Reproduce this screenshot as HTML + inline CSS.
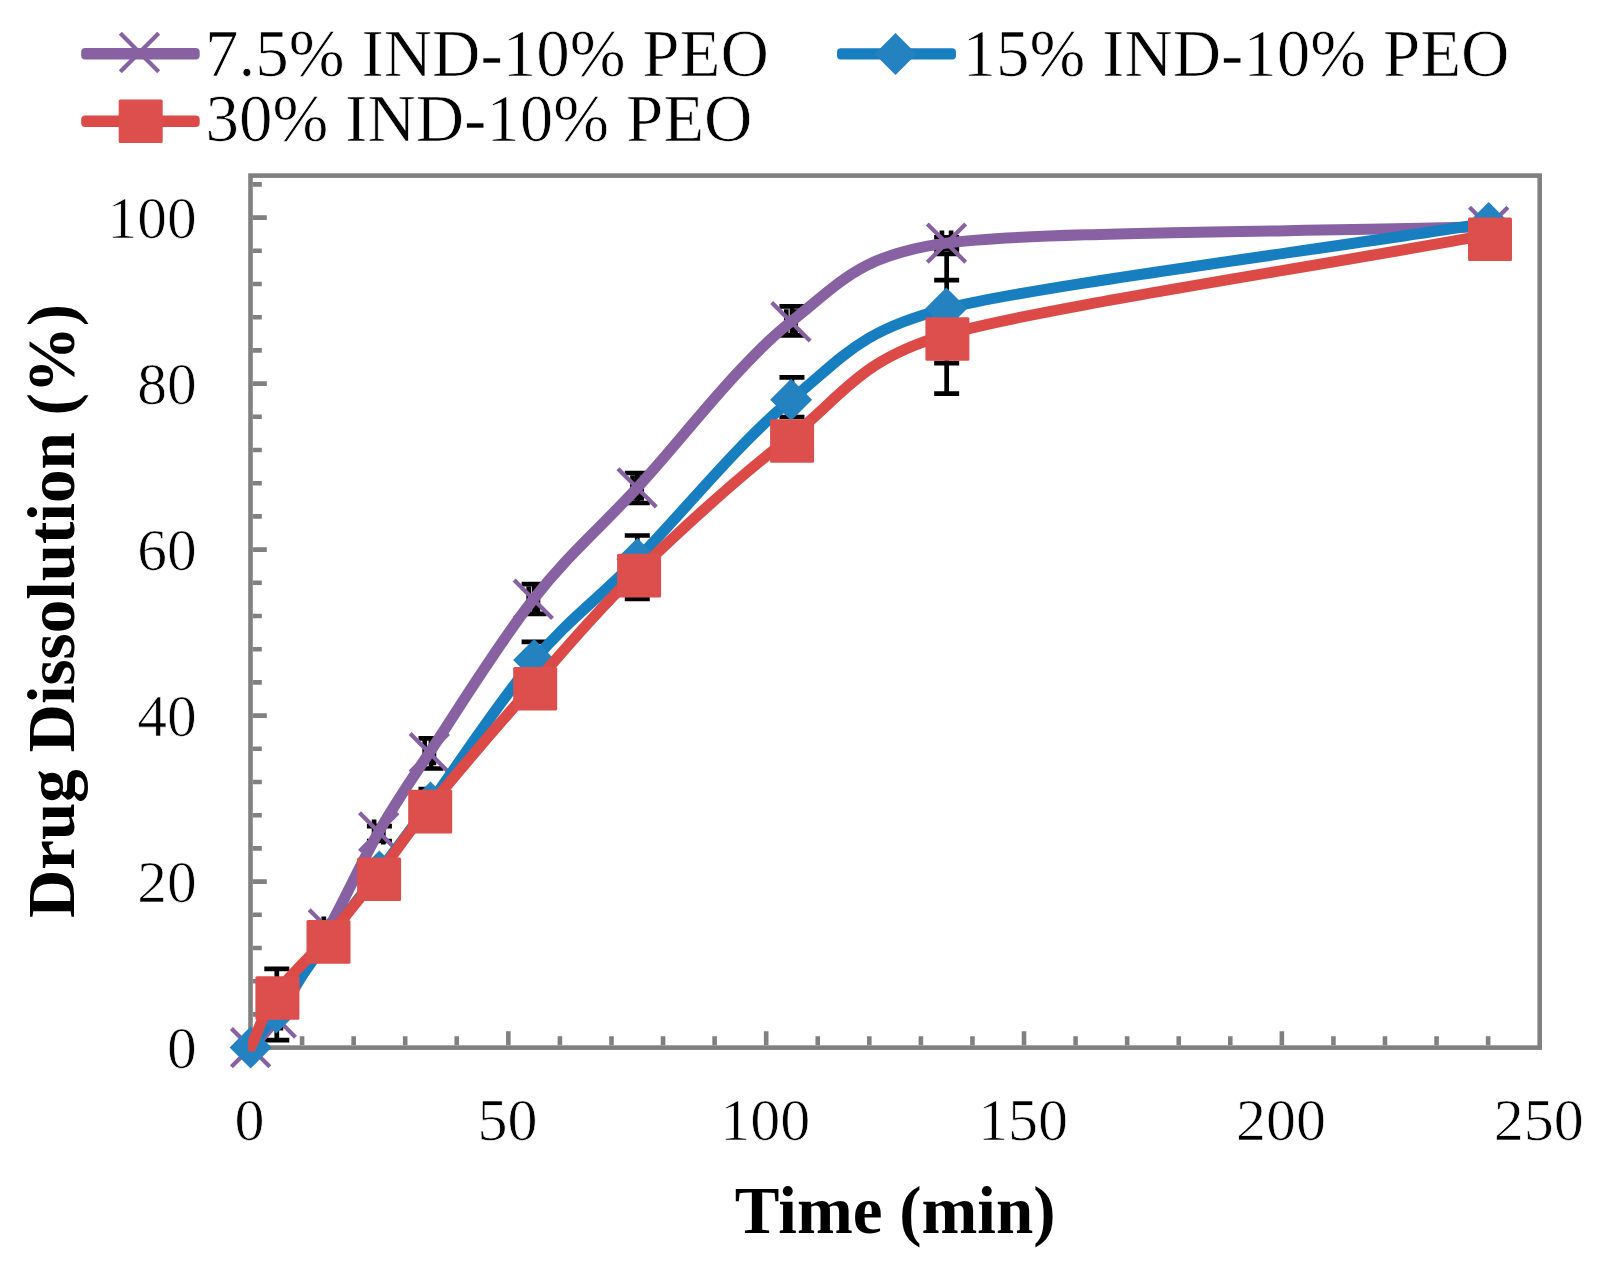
<!DOCTYPE html>
<html lang="en"><head><meta charset="utf-8"><title>Drug Dissolution</title>
<style>html,body{margin:0;padding:0;background:#fff;overflow:hidden}svg{display:block}</style></head>
<body>
<svg width="1603" height="1273" viewBox="0 0 1603 1273">
<rect x="0" y="0" width="1603" height="1273" fill="#ffffff"/>
<defs><clipPath id="pc"><rect x="248.2" y="173.4" width="1293.8" height="878.2"/></clipPath></defs>
<rect x="250.5" y="175.6" width="1289.20" height="872.00" fill="none" stroke="#808080" stroke-width="4.6"/>
<path d="M252.80,1014.40h9 M252.80,981.20h9 M252.80,948.00h9 M252.80,914.80h9 M252.80,881.60h14 M252.80,848.40h9 M252.80,815.20h9 M252.80,782.00h9 M252.80,748.80h9 M252.80,715.60h14 M252.80,682.40h9 M252.80,649.20h9 M252.80,616.00h9 M252.80,582.80h9 M252.80,549.60h14 M252.80,516.40h9 M252.80,483.20h9 M252.80,450.00h9 M252.80,416.80h9 M252.80,383.60h14 M252.80,350.40h9 M252.80,317.20h9 M252.80,284.00h9 M252.80,250.80h9 M252.80,217.60h14 M252.80,184.40h9 M302.07,1045.30v-9 M353.64,1045.30v-9 M405.20,1045.30v-9 M456.77,1045.30v-9 M508.34,1045.30v-14 M559.91,1045.30v-9 M611.48,1045.30v-9 M663.04,1045.30v-9 M714.61,1045.30v-9 M766.18,1045.30v-14 M817.75,1045.30v-9 M869.32,1045.30v-9 M920.88,1045.30v-9 M972.45,1045.30v-9 M1024.02,1045.30v-14 M1075.59,1045.30v-9 M1127.16,1045.30v-9 M1178.72,1045.30v-9 M1230.29,1045.30v-9 M1281.86,1045.30v-14 M1333.43,1045.30v-9 M1385.00,1045.30v-9 M1436.56,1045.30v-9 M1488.13,1045.30v-9" stroke="#808080" stroke-width="4.6" fill="none"/>
<g font-family="Liberation Serif, serif" font-size="59.4px" fill="#000" stroke="#fff" stroke-width="0.7">
<text x="196.6" y="1067.90" text-anchor="end">0</text>
<text x="196.6" y="901.90" text-anchor="end">20</text>
<text x="196.6" y="735.90" text-anchor="end">40</text>
<text x="196.6" y="569.90" text-anchor="end">60</text>
<text x="196.6" y="403.90" text-anchor="end">80</text>
<text x="196.6" y="237.90" text-anchor="end">100</text>
<text x="249.60" y="1140.3" text-anchor="middle" font-size="60px">0</text>
<text x="507.44" y="1140.3" text-anchor="middle" font-size="60px">50</text>
<text x="765.28" y="1140.3" text-anchor="middle" font-size="60px">100</text>
<text x="1023.12" y="1140.3" text-anchor="middle" font-size="60px">150</text>
<text x="1280.96" y="1140.3" text-anchor="middle" font-size="60px">200</text>
<text x="1538.80" y="1140.3" text-anchor="middle" font-size="60px">250</text>
</g>
<g font-family="Liberation Serif, serif" font-size="67px" font-weight="bold" fill="#000">
<text x="895.2" y="1232.9" text-anchor="middle">Time (min)</text>
<text transform="translate(74.4,611) rotate(-90)" text-anchor="middle">Drug Dissolution (%)</text>
</g>
<path d="M264.30,968.90h25M264.30,1040.20h25M276.80,968.90V1040.20 M366.92,826.20h25M366.92,841.00h25M379.42,826.20V841.00 M418.49,738.30h25M418.49,768.50h25M430.99,738.30V768.50 M521.62,584.10h25M521.62,613.80h25M534.12,584.10V613.80 M624.76,473.00h25M624.76,503.00h25M637.26,473.00V503.00 M779.46,306.40h25M779.46,335.30h25M791.96,306.40V335.30 M934.17,237.30h25M934.17,249.20h25M946.67,237.30V249.20 M418.49,789.00h25M418.49,820.00h25M430.99,789.00V820.00 M521.62,641.90h25M521.62,686.00h25M534.12,641.90V686.00 M624.76,535.50h25M624.76,599.00h25M637.26,535.50V599.00 M779.46,377.30h25M779.46,417.00h25M791.96,377.30V417.00 M934.17,254.00h25M934.17,363.20h25M946.67,254.00V363.20 M934.17,280.20h25M934.17,393.70h25M946.67,280.20V393.70 M271.70,1018.00h9.20M271.70,1005.50v25M280.90,1005.50v25 M323.80,928.90h9.20M323.80,916.40v25M333.00,916.40v25 M374.10,832.00h9.20M374.10,819.50v25M383.30,819.50v25 M424.70,752.80h9.20M424.70,740.30v25M433.90,740.30v25 M528.70,599.30h9.20M528.70,586.80v25M537.90,586.80v25 M632.50,487.90h9.20M632.50,475.40v25M641.70,475.40v25 M786.30,321.70h9.20M786.30,309.20v25M795.50,309.20v25 M941.90,243.10h9.20M941.90,230.60v25M951.10,230.60v25 M1484.10,226.50h9.20M1484.10,214.00v25M1493.30,214.00v25" stroke="#000" stroke-width="4.7" fill="none"/>
<path d="M250.60,1047.60 C259.17,1037.73 265.56,1034.39 276.30,1018.00 C287.04,1001.61 311.33,959.90 328.40,928.90 C345.47,897.90 361.88,861.35 378.70,832.00 C395.52,802.65 403.53,791.58 429.30,752.80 C455.07,714.02 498.67,643.45 533.30,599.30 C567.93,555.15 594.17,534.17 637.10,487.90 C680.03,441.63 739.33,362.50 790.90,321.70 C842.47,280.90 860.14,254.88 946.50,243.10 C1032.86,231.32 1307.97,232.03 1488.70,226.50" stroke="#8861A3" stroke-width="11.0" fill="none" stroke-linejoin="round" stroke-linecap="round" clip-path="url(#pc)"/>
<path d="M231.40,1028.40L269.80,1066.80M231.40,1066.80L269.80,1028.40" stroke="#8861A3" stroke-width="4.2" fill="none"/>
<path d="M257.10,998.80L295.50,1037.20M257.10,1037.20L295.50,998.80" stroke="#8861A3" stroke-width="4.2" fill="none"/>
<path d="M309.20,909.70L347.60,948.10M309.20,948.10L347.60,909.70" stroke="#8861A3" stroke-width="4.2" fill="none"/>
<path d="M359.50,812.80L397.90,851.20M359.50,851.20L397.90,812.80" stroke="#8861A3" stroke-width="4.2" fill="none"/>
<path d="M410.10,733.60L448.50,772.00M410.10,772.00L448.50,733.60" stroke="#8861A3" stroke-width="4.2" fill="none"/>
<path d="M514.10,580.10L552.50,618.50M514.10,618.50L552.50,580.10" stroke="#8861A3" stroke-width="4.2" fill="none"/>
<path d="M617.90,468.70L656.30,507.10M617.90,507.10L656.30,468.70" stroke="#8861A3" stroke-width="4.2" fill="none"/>
<path d="M771.70,302.50L810.10,340.90M771.70,340.90L810.10,302.50" stroke="#8861A3" stroke-width="4.2" fill="none"/>
<path d="M927.30,223.90L965.70,262.30M927.30,262.30L965.70,223.90" stroke="#8861A3" stroke-width="4.2" fill="none"/>
<path d="M1469.50,207.30L1507.90,245.70M1469.50,245.70L1507.90,207.30" stroke="#8861A3" stroke-width="4.2" fill="none"/>
<path d="M250.60,1047.60 C259.17,1035.90 263.68,1030.21 276.30,1012.50 C288.92,994.79 310.82,962.50 328.00,939.00 C345.18,915.50 362.32,894.23 379.40,871.50 C396.48,848.77 405.17,837.21 430.50,802.60 C455.83,767.99 499.63,700.68 534.10,660.10 C568.57,619.52 594.47,602.48 637.30,559.10 C680.13,515.72 739.60,441.57 791.10,399.80 C842.60,358.03 859.03,330.62 946.30,308.50 C1033.57,286.38 1307.90,251.50 1488.70,223.00" stroke="#177FC0" stroke-width="11.0" fill="none" stroke-linejoin="round" stroke-linecap="round" clip-path="url(#pc)"/>
<path d="M250.60,1026.60L271.60,1047.60L250.60,1068.60L229.60,1047.60Z" fill="#2582C0"/>
<path d="M276.30,991.50L297.30,1012.50L276.30,1033.50L255.30,1012.50Z" fill="#2582C0"/>
<path d="M328.00,918.00L349.00,939.00L328.00,960.00L307.00,939.00Z" fill="#2582C0"/>
<path d="M379.40,850.50L400.40,871.50L379.40,892.50L358.40,871.50Z" fill="#2582C0"/>
<path d="M430.50,781.60L451.50,802.60L430.50,823.60L409.50,802.60Z" fill="#2582C0"/>
<path d="M534.10,639.10L555.10,660.10L534.10,681.10L513.10,660.10Z" fill="#2582C0"/>
<path d="M637.30,538.10L658.30,559.10L637.30,580.10L616.30,559.10Z" fill="#2582C0"/>
<path d="M791.10,378.80L812.10,399.80L791.10,420.80L770.10,399.80Z" fill="#2582C0"/>
<path d="M946.30,287.50L967.30,308.50L946.30,329.50L925.30,308.50Z" fill="#2582C0"/>
<path d="M1488.70,202.00L1509.70,223.00L1488.70,244.00L1467.70,223.00Z" fill="#2582C0"/>
<path d="M250.50,1047.60 C259.13,1029.57 263.57,1011.87 276.40,993.50 C289.23,975.13 310.55,957.18 327.50,937.40 C344.45,917.62 361.15,896.52 378.10,874.80 C395.05,853.08 403.18,838.87 429.20,807.10 C455.22,775.33 499.38,723.53 534.20,684.20 C569.02,644.87 595.28,612.38 638.10,571.10 C680.92,529.82 739.72,475.93 791.10,436.50 C842.48,397.07 857.16,360.31 946.40,334.50 C1035.64,308.69 1308.13,267.97 1489.00,234.70" stroke="#DC4A48" stroke-width="11.0" fill="none" stroke-linejoin="round" stroke-linecap="round" clip-path="url(#pc)"/>
<rect x="255.40" y="976.20" width="44.00" height="43.60" rx="1.5" fill="#DD4F4C"/>
<rect x="306.50" y="920.10" width="44.00" height="43.60" rx="1.5" fill="#DD4F4C"/>
<rect x="357.10" y="857.50" width="44.00" height="43.60" rx="1.5" fill="#DD4F4C"/>
<rect x="408.20" y="789.80" width="44.00" height="43.60" rx="1.5" fill="#DD4F4C"/>
<rect x="513.20" y="666.90" width="44.00" height="43.60" rx="1.5" fill="#DD4F4C"/>
<rect x="617.10" y="553.80" width="44.00" height="43.60" rx="1.5" fill="#DD4F4C"/>
<rect x="770.10" y="419.20" width="44.00" height="43.60" rx="1.5" fill="#DD4F4C"/>
<rect x="925.40" y="317.20" width="44.00" height="43.60" rx="1.5" fill="#DD4F4C"/>
<rect x="1468.00" y="217.40" width="44.00" height="43.60" rx="1.5" fill="#DD4F4C"/>
<rect x="81.20" y="48.00" width="118.50" height="11.4" rx="4" fill="#8861A3"/>
<path d="M120.30,33.30L158.70,71.70M120.30,71.70L158.70,33.30" stroke="#8861A3" stroke-width="4.2" fill="none"/>
<rect x="837.00" y="48.20" width="119.00" height="11.4" rx="4" fill="#177FC0"/>
<path d="M895.50,32.90L916.50,53.90L895.50,74.90L874.50,53.90Z" fill="#2582C0"/>
<rect x="81.20" y="115.60" width="118.50" height="11.4" rx="4" fill="#DC4A48"/>
<rect x="118.70" y="99.50" width="44.00" height="43.60" rx="1.5" fill="#DD4F4C"/>
<g font-family="Liberation Serif, serif" font-size="67px" fill="#000" stroke="#fff" stroke-width="0.7">
<text x="205.1" y="76.1">7.5% IND-10% PEO</text>
<text x="962.4" y="76.1">15% IND-10% PEO</text>
<text x="205.4" y="141">30% IND-10% PEO</text>
</g>
</svg>
</body></html>
